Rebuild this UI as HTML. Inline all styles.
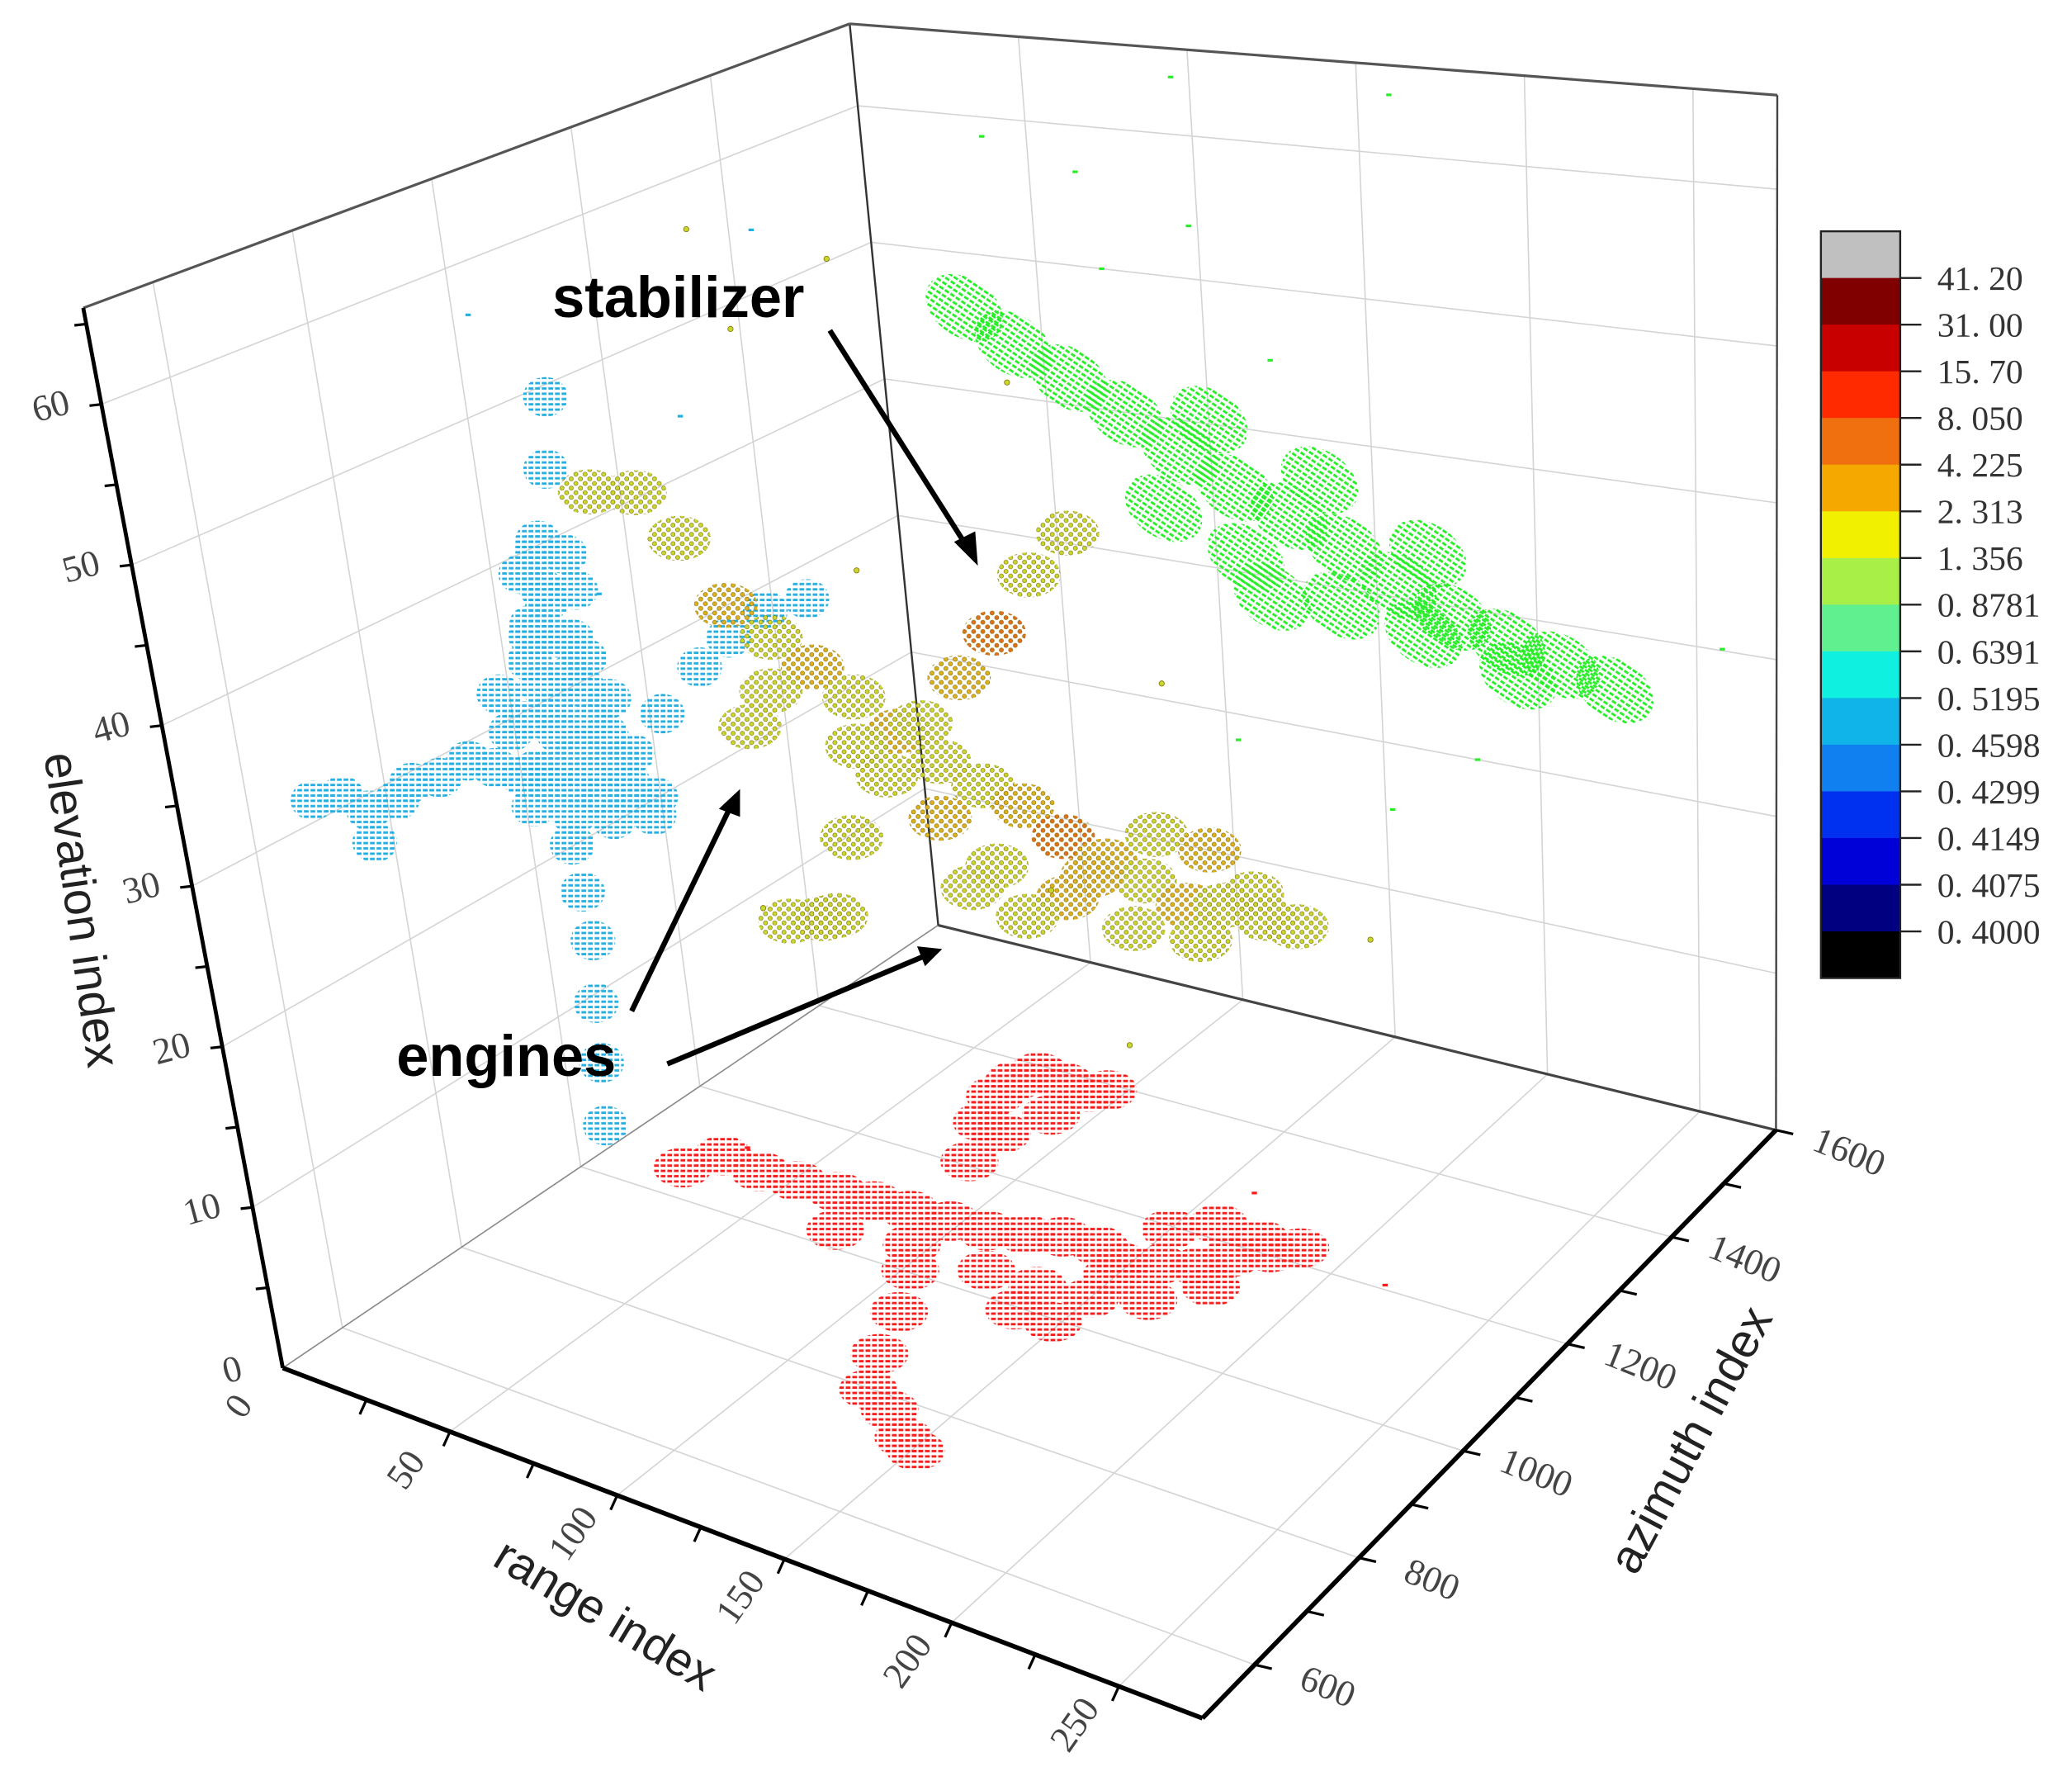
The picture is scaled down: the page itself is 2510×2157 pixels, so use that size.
<!DOCTYPE html>
<html><head><meta charset="utf-8"><title>3D scatter</title>
<style>html,body{margin:0;padding:0;background:#fff;}svg{display:block;}</style></head>
<body>
<svg id="chart" xmlns="http://www.w3.org/2000/svg" width="2510" height="2157" viewBox="0 0 1568 1347.5">
<defs id="defs"></defs>
<g id="grid"></g>
<g id="frame"></g>
<g id="marks"></g>
<g id="axes"></g>
<g id="cbar"></g>
<g id="notes">
<text x="418" y="240" font-family="Liberation Sans, sans-serif" font-weight="bold" font-size="44">stabilizer</text>
<text x="300" y="814" font-family="Liberation Sans, sans-serif" font-weight="bold" font-size="44">engines</text>
<line x1="628" y1="250" x2="732" y2="414" stroke="#000" stroke-width="4"/>
<polygon points="740,428 722,410 738,402" fill="#000"/>
<line x1="478" y1="765" x2="552" y2="612" stroke="#000" stroke-width="4"/>
<polygon points="560,597 544,612 560,618" fill="#000"/>
<line x1="505" y1="805" x2="698" y2="724" stroke="#000" stroke-width="4"/>
<polygon points="713,718 694,716 700,731" fill="#000"/>
</g>
</svg>
<script>
// ---- axis domains ----
const RMAX = 275, AMIN = 500, AMAX = 1600, EMAX = 66;
const rangeTicks = [50, 100, 150, 200, 250];
const azTicks = [600, 800, 1000, 1200, 1400, 1600];
const elevTicks = [0, 10, 20, 30, 40, 50, 60];
const cbarLabels = ["41. 20","31. 00","15. 70","8. 050","4. 225","2. 313","1. 356","0. 8781","0. 6391","0. 5195","0. 4598","0. 4299","0. 4149","0. 4075","0. 4000"];
const cbarThresholds = [0.4,0.4075,0.4149,0.4299,0.4598,0.5195,0.6391,0.8781,1.356,2.313,4.225,8.05,15.7,31,41.2];
const cbarColors = ['#000000','#000080','#0000d8','#0030f0','#1080f0','#10b4e8','#10f0e0','#60f090','#a8f048','#f0f000','#f5a800','#f07010','#ff2a00','#c80000','#800000','#c0c0c0'];

// ---- floor projection (red): range, azimuth ----
const floorR = [22,27,40,51,63,74,85,97,108,118,127,138,148,157,167,172,180,186,74,95,119,135,150,164,175,136,148,149,150,160,174,102,111,118,125,135,145,151,84,75,70,70,73,82,91,95,83,89];
const floorA = [1053,1094,1087,1090,1093,1096,1099,1102,1105,1118,1132,1135,1120,1135,1150,1180,1205,1225,1030,1046,1042,1042,1050,1075,1125,995,995,1095,1195,1225,1220,1004,933,858,798,778,744,731,1208,1279,1329,1362,1388,1383,1378,1390,1270,1323];
const floorSparseR = [216, 30, 160];
const floorSparseA = [1207, 1120, 1290];

// ---- left wall projection (blue): azimuth, elevation ----
const wallLA = [694,736,771,814,839,881,772,926,963,1001,1038,1076,1113,1153,1192,1042,1074,1083,1036,1091,985,1060,1116,994,1089,1144,1022,1047,1073,1113,1099,1059,1064,1069,1060,1055,1047,1218,1282,1330,1389,1452,
  1069,1109,1068,1117,1043,1102,1116,1048,1107,1143,1017,1063,1132,1166,1042,1099,1156,1186,1068,1126,1011];
const wallLE = [31.3,30.7,29.0,28.7,29.3,28.7,26.9,28.8,27.5,26.1,24.7,23.4,22.1,21.1,20.1,38.7,36.2,33.5,33.0,30.8,31.9,29.1,27.0,29.2,25.9,23.8,26.0,35.2,40.3,49.2,44.6,20.1,16.8,13.4,9.4,5.5,1.5,25.2,26.9,27.8,28.3,27.6,
  39.6,38.6,37.2,36.0,34.5,33.0,31.4,31.1,29.6,28.0,29.4,27.5,25.8,23.7,25.5,23.7,21.8,19.0,21.9,20.2,23.8];
const wallLSparseA = [1022, 1432, 1150, 1300];
const wallLSparseE = [56.5, 54.4, 35, 44];

// ---- right wall projection (green): range, elevation ----
const wallRR = [26.8,41,57.5,74,90.3,106.8,123.5,140.3,156.7,173.4,190.3,207.2,224.1,84.2,109.2,138.5,164,193.6,100.1,133.5,166.4,116.7];
const wallRE = [46.0,43.8,41.9,39.9,37.8,35.8,34.4,32.8,30.8,29.3,28.2,27.3,26.3,33.6,31.1,28.8,27.8,26.1,40.3,37.2,33.3,28.6];
const wallRSparseR = [64,97.3,94.6,159.5,36.6,103.5,152.2,258,70,120,180];
const wallRSparseE = [56.7,53.7,64,64,58.6,18.2,15.5,30.1,50,45,20];

// ---- 3D cloud: range, azimuth, elevation, value ----
const cloudR = [22,27,40,51,63,74,85,97,108,118,127,138,148,157,167,172,180,186,74,95,119,135,150,164,175,136,148,149,150,160,174,117,108,100,89,81,72,63,55,53,119,111];
const cloudA = [1053,1094,1087,1090,1093,1096,1099,1102,1105,1118,1132,1135,1148,1162,1175,1209,1233,1253,1030,1046,1042,1042,1072,1101,1151,995,1016,1119,1222,1254,1246,854,958,1062,1177,1281,1385,1489,1592,1094,866,834];
const cloudE = [45,44.3,42,38,36.4,34.9,33.4,31.7,30.2,28.8,27.6,26.1,24.7,23.5,22.1,21.4,20.3,19.5,34.9,32,28.7,26.5,24.5,22.5,21,26.4,24.7,24.6,24.5,23.1,21.2,27,29,30,30,30,30,31,31,30,27,27];
const cloudV = [1.8,1.9,2.0,3.0,2.0,3.5,2.0,3.0,2.0,1.9,3.0,5,3.5,2.0,3.0,2.0,2.0,1.8,2.0,1.9,3.0,2.0,3.5,2.0,2.0,1.8,2.0,3.0,2.0,3.0,1.8,2.0,1.9,1.8,2.0,3.0,5,2.0,1.8,2.0,1.9,1.8];
const cloudSparseR = [50,100,60,120,160,90,200,30,130,110];
const cloudSparseA = [1150,1300,1250,1200,1100,900,1300,1200,1350,1000];
const cloudSparseE = [55,50,58,20,15,25,18,60,30,45];

// ---- geometry ----
const A=[214,1035],B=[910,1300],C=[1344,855],D=[710,700];
const VA=[-151,-802],VB=[-83,-903],VC=[1,-783],VD=[-67,-682];
const NS='http://www.w3.org/2000/svg';
function bl(p,q,r,s,u,v){return [p[0]*(1-u)*(1-v)+q[0]*u*(1-v)+r[0]*u*v+s[0]*(1-u)*v, p[1]*(1-u)*(1-v)+q[1]*u*(1-v)+r[1]*u*v+s[1]*(1-u)*v];}
function xs(r){return r/RMAX;}
function ya(a){return (a-AMIN)/(AMAX-AMIN);}
function ze(e){return e/EMAX;}
function P(r,a,e){const u=xs(r),v=ya(a);const f=bl(A,B,C,D,u,v);const w=bl(VA,VB,VC,VD,u,v);const k=ze(e);return [f[0]+w[0]*k,f[1]+w[1]*k];}
function mk(tag,parent,attrs){const el=document.createElementNS(NS,tag);for(const k in attrs)el.setAttribute(k,attrs[k]);parent.appendChild(el);return el;}
function colorFor(v){let i=0;while(i<cbarThresholds.length&&v>=cbarThresholds[i])i++;return cbarColors[i];}
function cloudColor(v){if(v<2.313)return '#c4d830';if(v<4.225)return '#dcb020';return '#e07020';}

const defs=document.getElementById('defs');
const gGrid=document.getElementById('grid'),gFrame=document.getElementById('frame'),gMarks=document.getElementById('marks'),gAxes=document.getElementById('axes'),gCbar=document.getElementById('cbar');

function dashPattern(id,color){const p=mk('pattern',defs,{id:id,width:5,height:4,patternUnits:'userSpaceOnUse'});mk('rect',p,{x:0,y:1,width:3.6,height:1.8,fill:color});return 'url(#'+id+')';}
function dotPattern(id,color,stroke){const p=mk('pattern',defs,{id:id,width:7,height:7,patternUnits:'userSpaceOnUse'});mk('circle',p,{cx:1.8,cy:1.8,r:1.6,fill:color,stroke:stroke,'stroke-width':0.4});mk('circle',p,{cx:5.3,cy:5.3,r:1.6,fill:color,stroke:stroke,'stroke-width':0.4});return 'url(#'+id+')';}
const redFill=dashPattern('pr','#ff1a1a');
const blueFill=dashPattern('pb','#22b0e4');
const greenFill=dashPattern('pg','#28ee28');

function line(parent,p,q,stroke,w,name){const l=mk('line',parent,{x1:p[0],y1:p[1],x2:q[0],y2:q[1],stroke:stroke,'stroke-width':w});


return l;}

// ---- grid ----
const gc='#d4d4d4';
rangeTicks.forEach(r=>{line(gGrid,P(r,AMIN,0),P(r,AMAX,0),gc,1,'floor-grid-range');line(gGrid,P(r,AMAX,0),P(r,AMAX,EMAX),gc,1,'rightwall-grid-range');});
azTicks.filter(a=>a<AMAX).forEach(a=>{line(gGrid,P(0,a,0),P(RMAX,a,0),gc,1,'floor-grid-azimuth');line(gGrid,P(0,a,0),P(0,a,EMAX),gc,1,'leftwall-grid-azimuth');});
elevTicks.filter(e=>e>0).forEach(e=>{line(gGrid,P(0,AMIN,e),P(0,AMAX,e),gc,1,'leftwall-grid-elevation');line(gGrid,P(0,AMAX,e),P(RMAX,AMAX,e),gc,1,'rightwall-grid-elevation');});

// ---- frame ----
line(gFrame,P(0,AMIN,0),P(0,AMAX,0),'#888',1,'floor-left-edge');
line(gFrame,P(0,AMAX,0),P(RMAX,AMAX,0),'#444',2,'floor-back-edge');
line(gFrame,P(0,AMAX,0),P(0,AMAX,EMAX),'#333',1.5,'back-vertical-edge');
line(gFrame,P(0,AMIN,EMAX),P(0,AMAX,EMAX),'#555',2,'left-top-edge');
line(gFrame,P(0,AMAX,EMAX),P(RMAX,AMAX,EMAX),'#555',2,'right-top-edge');
line(gFrame,P(RMAX,AMAX,EMAX),P(RMAX,AMAX,0),'#444',1.5,'right-vertical-edge');

// ---- projections ----
for(let i=0;i<floorR.length;i++){const p=P(floorR[i],floorA[i],0);const el=mk('ellipse',gMarks,{cx:p[0],cy:p[1],rx:22,ry:15,fill:redFill});

}
for(let i=0;i<floorSparseR.length;i++){const p=P(floorSparseR[i],floorSparseA[i],0);const el=mk('rect',gMarks,{x:p[0]-2,y:p[1]-1,width:4,height:2,fill:'#ff1a1a'});

}
for(let i=0;i<wallLA.length;i++){const p=P(0,wallLA[i],wallLE[i]);const el=mk('ellipse',gMarks,{cx:p[0],cy:p[1],rx:17,ry:15,fill:blueFill});

}
for(let i=0;i<wallLSparseA.length;i++){const p=P(0,wallLSparseA[i],wallLSparseE[i]);const el=mk('rect',gMarks,{x:p[0]-2,y:p[1]-1,width:4,height:2,fill:'#22b0e4'});

}
for(let i=0;i<wallRR.length;i++){const p=P(wallRR[i],AMAX,wallRE[i]);const el=mk('ellipse',gMarks,{cx:p[0],cy:p[1],rx:32,ry:22,fill:greenFill,transform:'rotate(34 '+p[0]+' '+p[1]+')'});

}
for(let i=0;i<wallRSparseR.length;i++){const p=P(wallRSparseR[i],AMAX,wallRSparseE[i]);const el=mk('rect',gMarks,{x:p[0]-2,y:p[1]-1,width:4,height:2,fill:'#28ee28'});

}

// ---- 3D cloud ----
const pats={};
for(let i=0;i<cloudR.length;i++){const c=cloudColor(cloudV[i]);
if(!pats[c])pats[c]=dotPattern('pc'+Object.keys(pats).length,c,'#8a7000');
const p=P(cloudR[i],cloudA[i],cloudE[i]);const el=mk('ellipse',gMarks,{cx:p[0],cy:p[1],rx:24,ry:17,fill:pats[c]});

}
for(let i=0;i<cloudSparseR.length;i++){const p=P(cloudSparseR[i],cloudSparseA[i],cloudSparseE[i]);const el=mk('circle',gMarks,{cx:p[0],cy:p[1],r:2,fill:'#c4d830',stroke:'#8a7000','stroke-width':0.5});

}

// ---- axes ----
line(gAxes,P(0,AMIN,0),P(0,AMIN,EMAX),'#000',3,'elevation-axis');
line(gAxes,P(0,AMIN,0),P(RMAX,AMIN,0),'#000',3.5,'range-axis');
line(gAxes,P(RMAX,AMIN,0),P(RMAX,AMAX,0),'#000',3.5,'azimuth-axis');
function txt(parent,x,y,s,rot,size,fam,name,anchor,fill){const t=mk('text',parent,{x:x,y:y,'font-size':size,'font-family':fam,'text-anchor':anchor||'middle',fill:fill||'#222',transform:'rotate('+rot+' '+x+' '+y+')'});t.textContent=s;


return t;}
const serif='Liberation Serif, serif', sans='Liberation Sans, sans-serif';
for(let e=5;e<EMAX;e+=5){const p=P(0,AMIN,e);line(gAxes,p,[p[0]-9,p[1]+1],'#000',2,'elevation-tick');}
elevTicks.forEach(e=>{const p=P(0,AMIN,e);txt(gAxes,p[0]-36,p[1]+10,String(e),-15,28,serif,'elevation-tick-label','middle','#444');});
for(let r=25;r<RMAX;r+=25){const p=P(r,AMIN,0);line(gAxes,p,[p[0]-5,p[1]+11],'#000',2,'range-tick');}
[0].concat(rangeTicks).forEach(r=>{const p=P(r,AMIN,0);txt(gAxes,p[0]-26,p[1]+34,String(r),-55,28,serif,'range-tick-label','middle','#444');});
for(let a=600;a<=AMAX;a+=100){const p=P(RMAX,a,0);line(gAxes,p,[p[0]+13,p[1]+3],'#000',2,'azimuth-tick');}
azTicks.forEach(a=>{const p=P(RMAX,a,0);txt(gAxes,p[0]+52,p[1]+25,String(a),22,28,serif,'azimuth-tick-label','middle','#444');});
txt(gAxes,50,690,'elevation index',82,36,sans,'elevation-axis-title');
txt(gAxes,452,1232,'range index',31,36,sans,'range-axis-title');
txt(gAxes,1290,1095,'azimuth index',-62,36,sans,'azimuth-axis-title');

// ---- colorbar ----
const cbX=1378,cbY=175,cbW=60,cbH=565,seg=cbH/cbarColors.length;
for(let i=0;i<cbarColors.length;i++){const col=cbarColors[cbarColors.length-1-i];const r=mk('rect',gCbar,{x:cbX,y:cbY+i*seg,width:cbW,height:seg+0.5,fill:col});

}
const frameR=mk('rect',gCbar,{x:cbX,y:cbY,width:cbW,height:cbH,fill:'none',stroke:'#222','stroke-width':1.5});


cbarLabels.forEach((s,i)=>{const y=cbY+(i+1)*seg;line(gCbar,[cbX+cbW,y],[cbX+cbW+16,y],'#222',1.5,'colorbar-tick');txt(gCbar,1466,y+9,s,0,26,serif,'colorbar-label','start','#333');});
</script>
</body></html>
